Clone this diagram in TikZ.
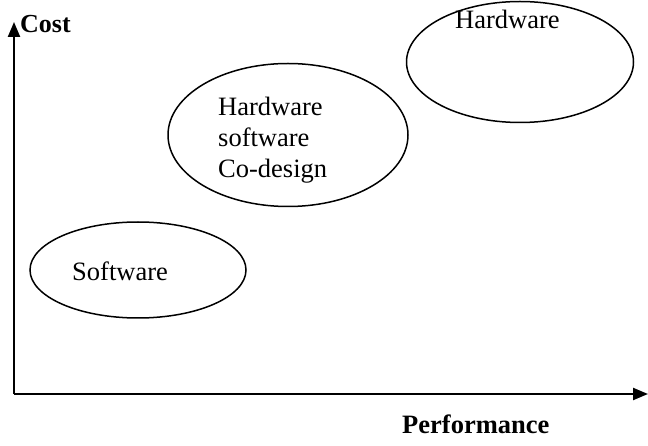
\documentclass[tikz,border=0pt]{standalone}
\usepackage{fontspec}
\setmainfont{Liberation Serif}
\usetikzlibrary{shapes.geometric, arrows.meta, positioning}

\begin{document}
\begin{tikzpicture}[
    x=1pt, y=-1pt,
    region/.style={draw, ellipse, line width=1.5pt, inner sep=0pt},
    label text/.style={font=\fontsize{26.5}{31}\selectfont, anchor=base west, inner sep=0pt, align=left},
    axis/.style={line width=2.2pt, -{Triangle[length=15pt,width=12pt]}}
]
\useasboundingbox (0,0) rectangle (648,446);

% Axes
\coordinate (origin) at (14,394);
\coordinate (ytip) at (14,22);
\coordinate (xtip) at (648,394);
\draw[axis] (origin) -- (ytip);
\draw[axis] (origin) -- (xtip);
\node[font=\fontsize{26}{30}\selectfont\bfseries, anchor=base west, inner sep=0pt] (cost) at (20,33) {Cost};
\node[font=\fontsize{26.5}{30}\selectfont\bfseries, anchor=base west, inner sep=0pt] (perf) at (402,433) {Performance};

% Regions
\node[region, minimum width=216pt, minimum height=96pt] (sw) at (138,270) {};
\node[region, minimum width=240pt, minimum height=143pt] (codesign) at (288,135) {};
\node[region, minimum width=227pt, minimum height=121pt] (hw) at (520,62) {};

% Region texts
\node[label text] (swtext) at (72,281) {Software};
\node[label text] (codesigntext) at (218,178) {Hardware\\software\\Co-design};
\node[label text] (hwtext) at (455,29) {Hardware};

\end{tikzpicture}
\end{document}
